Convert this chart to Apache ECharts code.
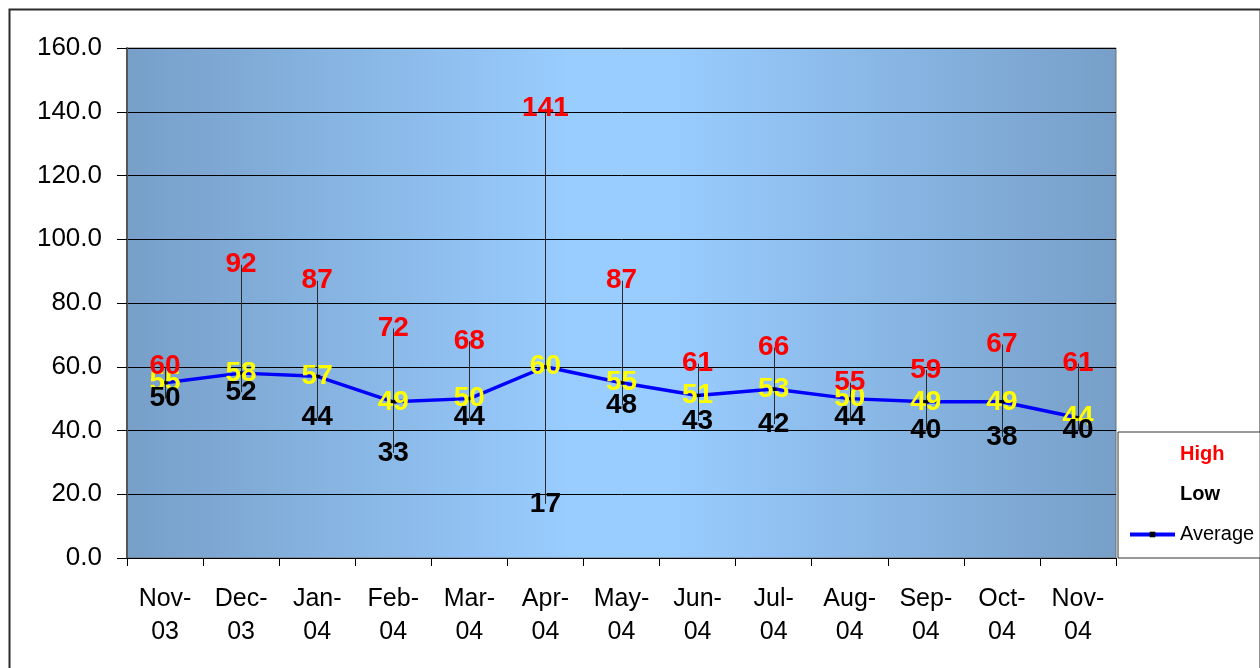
<!DOCTYPE html>
<html>
<head>
<meta charset="utf-8">
<script src="https://cdn.jsdelivr.net/npm/echarts@6/dist/echarts.min.js"></script>
<style>
html,body{margin:0;padding:0;background:#fff;}
#c{width:1260px;height:668px;}
</style>
</head>
<body>
<div id="c"></div>
<script>
const categories = ["Nov-03","Dec-03","Jan-04","Feb-04","Mar-04","Apr-04","May-04","Jun-04","Jul-04","Aug-04","Sep-04","Oct-04","Nov-04"];
const highValues = [60, 92, 87, 72, 68, 141, 87, 61, 66, 55, 59, 67, 61];
const lowValues = [50, 52, 44, 33, 44, 17, 48, 43, 42, 44, 40, 38, 40];
const averageValues = [55, 58, 57, 49, 50, 60, 55, 51, 53, 50, 49, 49, 44];
const yTicks = [0, 20, 40, 60, 80, 100, 120, 140, 160];

const FONT = "'Liberation Sans', Arial, sans-serif";
const chart = echarts.init(document.getElementById('c'), null, {renderer: 'canvas'});

const hiloData = categories.map((c, i) => [i, lowValues[i], highValues[i]]);

const labelBase = {show: true, position: 'inside', fontFamily: FONT, fontWeight: 'bold', fontSize: 28};

chart.setOption({
  animation: false,
  backgroundColor: '#fff',
  graphic: [{
    type: 'rect', left: 7, top: 7, z: -10, silent: true,
    shape: {width: 1251, height: 680},
    style: {fill: 'none', stroke: '#2b2b2b', lineWidth: 2}
  }],
  grid: {
    left: 127, top: 48, width: 989, height: 510,
    show: true,
    borderColor: '#6f6f6f', borderWidth: 1,
    backgroundColor: new echarts.graphic.LinearGradient(0, 0, 1, 0, [
      {offset: 0, color: '#779fc8'},
      {offset: 0.45, color: '#99ccff'},
      {offset: 0.55, color: '#99ccff'},
      {offset: 1, color: '#779fc8'}
    ])
  },
  legend: {
    orient: 'vertical',
    left: 1118, top: 432,
    padding: [11, 6, 12, 10],
    itemGap: 17,
    itemWidth: 45, itemHeight: 7,
    backgroundColor: '#fff',
    borderColor: '#333', borderWidth: 1,
    textStyle: {fontFamily: FONT, fontSize: 20, color: '#000', lineHeight: 23},
    selectedMode: false,
    data: [
      {name: 'High', icon: 'rect', itemStyle: {opacity: 0}, textStyle: {color: '#ff0000', fontWeight: 'bold'}},
      {name: 'Low', icon: 'rect', itemStyle: {opacity: 0}, textStyle: {color: '#000', fontWeight: 'bold'}},
      {name: 'Average', lineStyle: {width: 4}}
    ]
  },
  xAxis: {
    type: 'category',
    data: categories,
    boundaryGap: true,
    axisLine: {show: true, lineStyle: {color: '#000', width: 1}},
    axisTick: {show: true, length: 8, lineStyle: {color: '#000'}},
    axisLabel: {
      margin: 25,
      fontFamily: FONT, fontSize: 25, color: '#000', lineHeight: 33,
      formatter: v => v.replace('-', '-\n')
    },
    splitLine: {show: false}
  },
  yAxis: {
    type: 'value',
    min: yTicks[0], max: yTicks[yTicks.length - 1], interval: yTicks[1] - yTicks[0],
    axisLine: {show: true, lineStyle: {color: '#555', width: 2}},
    axisTick: {show: true, length: 10, lineStyle: {color: '#000'}},
    axisLabel: {
      margin: 25,
      fontFamily: FONT, fontSize: 26, color: '#000', lineHeight: 34, verticalAlign: 'middle',
      formatter: v => v.toFixed(1)
    },
    splitLine: {show: true, lineStyle: {color: '#000', width: 1}}
  },
  series: [
    {
      name: 'HiLo',
      type: 'custom',
      data: hiloData,
      z: 2,
      silent: true,
      renderItem: (params, api) => {
        const lo = api.coord([api.value(0), api.value(1)]);
        const hi = api.coord([api.value(0), api.value(2)]);
        const x = Math.round(lo[0]) + 0.5;
        return {type: 'line', shape: {x1: x, y1: lo[1], x2: x, y2: hi[1]}, style: {stroke: '#2a2a2a', lineWidth: 1}};
      }
    },
    {
      name: 'Average',
      type: 'line',
      data: averageValues,
      z: 3,
      symbol: 'rect', symbolSize: [6, 3],
      itemStyle: {color: '#000'},
      lineStyle: {color: '#0000ff', width: 3.5},
      label: Object.assign({}, labelBase, {color: '#ffff00'})
    },
    {
      name: 'High',
      type: 'line',
      data: highValues,
      z: 4,
      symbol: 'circle', symbolSize: 1,
      itemStyle: {color: 'rgba(0,0,0,0)'},
      lineStyle: {width: 0, opacity: 0},
      label: Object.assign({}, labelBase, {color: '#ff0000'})
    },
    {
      name: 'Low',
      type: 'line',
      data: lowValues,
      z: 4,
      symbol: 'circle', symbolSize: 1,
      itemStyle: {color: 'rgba(0,0,0,0)'},
      lineStyle: {width: 0, opacity: 0},
      label: Object.assign({}, labelBase, {color: '#000'})
    }
  ]
});
</script>
</body>
</html>
